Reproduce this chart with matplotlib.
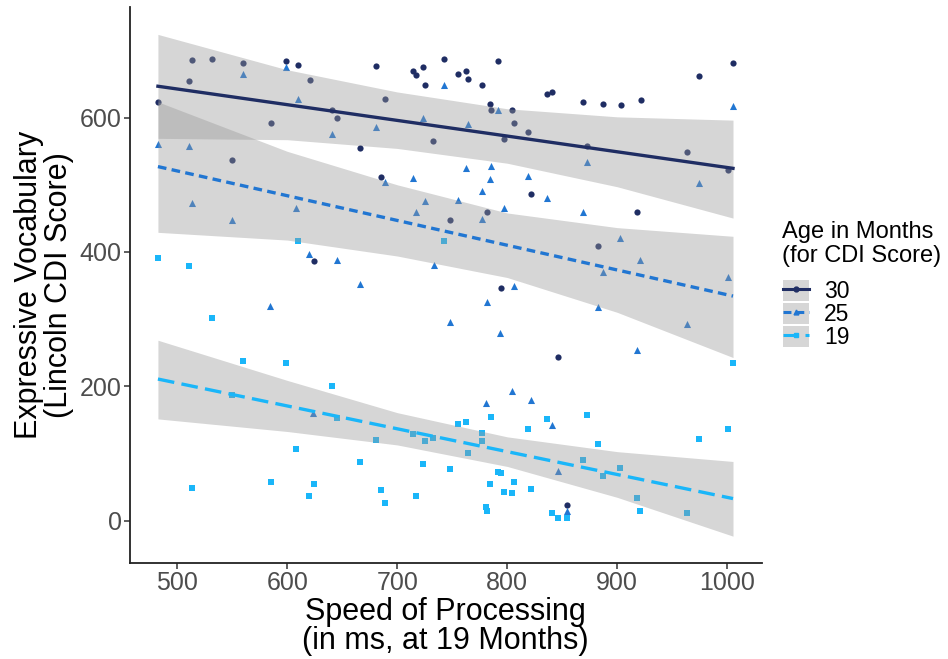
""" Speed of processing vs expressive vocabulary, by CDI age """

import numpy as np
import matplotlib
matplotlib.use('Agg')
import matplotlib.pyplot as plt
from matplotlib.lines import Line2D
from matplotlib.patches import Patch

plt.rcParams['font.family'] = ['Liberation Sans', 'DejaVu Sans']

# Points: speed (ms) and CDI score, per age group
x30 = [482.5, 510.4, 513.4, 531.3, 549.5, 560.0, 584.9, 598.5, 609.5, 620.4,
       624.0, 640.9, 645.5, 665.8, 680.6, 685.2, 689.1, 714.0, 717.3, 723.4,
       725.5, 732.7, 742.5, 747.6, 755.5, 762.5, 764.3, 776.7, 781.5, 784.5,
       785.5, 791.3, 794.0, 797.3, 804.5, 806.1, 819.1, 821.8, 836.4, 840.6,
       846.1, 854.5, 868.8, 872.7, 882.5, 887.3, 903.1, 917.9, 921.3, 963.4,
       974.3, 1000.4, 1005.2]
y30 = [622.8, 654.4, 685.9, 687.0, 537.3, 680.6, 591.1, 683.6, 678.5, 655.4,
       386.7, 611.0, 599.6, 555.1, 676.6, 512.1, 627.7, 669.6, 662.8, 675.6,
       648.9, 565.0, 686.5, 447.4, 665.2, 668.7, 657.8, 648.0, 459.9, 620.7,
       611.0, 684.4, 345.8, 568.4, 611.9, 591.1, 578.8, 486.5, 635.6, 638.5,
       244.0, 24.3, 623.7, 558.1, 408.4, 620.7, 618.8, 459.6, 625.8, 549.2,
       662.2, 522.1, 680.6]

x25 = [482.5, 510.4, 513.4, 549.5, 560.0, 584.5, 598.5, 607.6, 609.5, 620.0,
       623.6, 640.9, 645.5, 665.8, 680.6, 689.1, 714.0, 717.3, 723.4, 725.5,
       733.1, 742.5, 747.6, 755.5, 762.2, 764.0, 776.7, 777.3, 780.6, 781.5,
       784.5, 785.2, 791.3, 793.6, 797.0, 804.5, 806.1, 818.8, 821.8, 836.4,
       840.6, 846.1, 854.5, 868.8, 872.7, 882.2, 887.3, 902.8, 918.0, 921.0,
       963.4, 974.3, 1000.4, 1005.2]
y25 = [560.6, 557.0, 472.1, 447.9, 664.3, 319.0, 674.7, 465.2, 627.7, 397.0,
       159.9, 574.9, 388.7, 352.1, 585.7, 504.3, 509.6, 459.9, 599.1, 475.5,
       381.3, 647.9, 295.4, 476.6, 524.4, 590.2, 448.4, 490.4, 174.8, 325.9,
       508.7, 527.4, 611.8, 279.5, 464.7, 193.6, 349.2, 513.6, 180.3, 480.1,
       142.2, 73.8, 14.4, 459.9, 534.4, 318.1, 370.3, 421.2, 253.9, 387.7,
       292.4, 503.3, 362.5, 617.8]

x19 = [482.5, 510.4, 513.4, 531.3, 549.5, 560.0, 584.9, 598.5, 607.6, 609.5,
       620.0, 624.0, 640.9, 645.5, 665.8, 680.6, 685.2, 689.1, 714.0, 717.3,
       723.4, 725.5, 732.7, 742.1, 747.6, 755.5, 762.5, 764.0, 776.7, 777.3,
       780.6, 781.5, 784.5, 785.2, 791.3, 794.0, 797.0, 804.5, 806.1, 819.1,
       821.8, 836.4, 840.6, 846.1, 854.5, 868.8, 872.7, 882.5, 887.3, 902.8,
       917.9, 921.0, 963.4, 974.3, 1000.4, 1005.2]
y19 = [391.6, 379.7, 48.4, 301.3, 187.1, 238.4, 58.1, 235.4, 106.2, 416.9,
       37.2, 54.5, 200.6, 153.6, 87.9, 119.6, 46.5, 26.7, 128.9, 37.2,
       85.0, 118.1, 123.6, 416.9, 77.0, 144.7, 146.7, 100.7, 130.9, 118.1,
       20.3, 14.8, 54.3, 153.9, 73.0, 71.9, 42.5, 41.5, 58.1, 136.1,
       47.4, 152.1, 11.9, 4.4, 3.6, 91.0, 157.0, 115.1, 66.2, 79.1,
       33.6, 14.8, 11.4, 121.9, 136.7, 235.4]

# Fitted lines and confidence bands
fit_x = [482.5, 600, 700, 800, 900, 1005.2]
fit30 = [646.5, 619.1, 595.7, 572.4, 549.0, 524.4]
lo30 = [569.0, 567.0, 554.0, 532.0, 497.0, 450.4]
hi30 = [723.6, 671.0, 638.0, 613.0, 601.0, 596.1]
fit25 = [527.0, 483.7, 446.9, 410.0, 373.2, 334.4]
lo25 = [429.2, 417.7, 394.0, 362.0, 310.2, 243.0]
hi25 = [623.3, 549.7, 499.9, 458.0, 436.2, 423.3]
fit19 = [211.0, 171.0, 137.0, 103.0, 69.0, 33.2]
lo19 = [151.7, 133.0, 113.0, 81.0, 35.0, -22.7]
hi19 = [268.7, 209.0, 161.0, 125.0, 103.0, 88.4]

ages = ['30', '25', '19']
colors = ['#1f2d63', '#2176d2', '#1ab6f9']
markers = ['o', '^', 's']
msizes = [20, 26, 18]
dashes = [None, (2.6, 1.6), (5.0, 2.2)]

groups = [(x30, y30, fit30, lo30, hi30),
          (x25, y25, fit25, lo25, hi25),
          (x19, y19, fit19, lo19, hi19)]

fig = plt.figure(figsize=(9.48, 6.59), dpi=100)
ax = fig.add_axes([0.137, 0.1457, 0.6665, 0.8433])

for (xs, ys, _, _, _), col, mk, ms in zip(groups, colors, markers, msizes):
    ax.scatter(xs, ys, s=ms, marker=mk, color=col, linewidths=0, zorder=2)

for (_, _, fit, lo, hi), col, ds in zip(groups, colors, dashes):
    ax.fill_between(fit_x, lo, hi, color='#999999', alpha=0.4,
                    linewidth=0, zorder=3)
    line, = ax.plot(fit_x, fit, color=col, lw=2.4, zorder=4)
    if ds is not None:
        line.set_dashes(ds)

ax.set_xlim(457, 1031.3)
ax.set_ylim(-62.6, 764)
ax.set_xticks([500, 600, 700, 800, 900, 1000])
ax.set_yticks([0, 200, 400, 600])

for side in ['top', 'right']:
    ax.spines[side].set_visible(False)
for side in ['left', 'bottom']:
    ax.spines[side].set_linewidth(1.3)
    ax.spines[side].set_color('#222222')

ax.tick_params(axis='both', labelsize=18, colors='#333333', length=4,
               width=1.1, labelcolor='#4d4d4d', pad=2)

ax.set_xlabel('Speed of Processing\n(in ms, at 19 Months)', fontsize=22,
              linespacing=0.98, labelpad=1)
ax.set_ylabel('Expressive Vocabulary\n(Lincoln CDI Score)', fontsize=22,
              linespacing=0.98, labelpad=4)

# Legend title drawn as text, keys below it
fig.text(0.825, 0.665, 'Age in Months\n(for CDI Score)', fontsize=17,
         ha='left', va='top', linespacing=1.12)

handles = []
for col, mk, ds in zip(colors, markers, dashes):
    ln = Line2D([], [], color=col, lw=2.2, marker=mk, markersize=3.5)
    if ds is not None:
        ln.set_dashes(ds)
    handles.append((Patch(facecolor='#d6d6d6', edgecolor='none'), ln))

fig.legend(handles, ages, loc='upper left', bbox_to_anchor=(0.826, 0.575),
           frameon=False, fontsize=16.5, handlelength=1.15, handleheight=1.0,
           labelspacing=0.0, handletextpad=0.65, borderpad=0.0,
           borderaxespad=0.0)

fig.savefig('out.png', dpi=100)
